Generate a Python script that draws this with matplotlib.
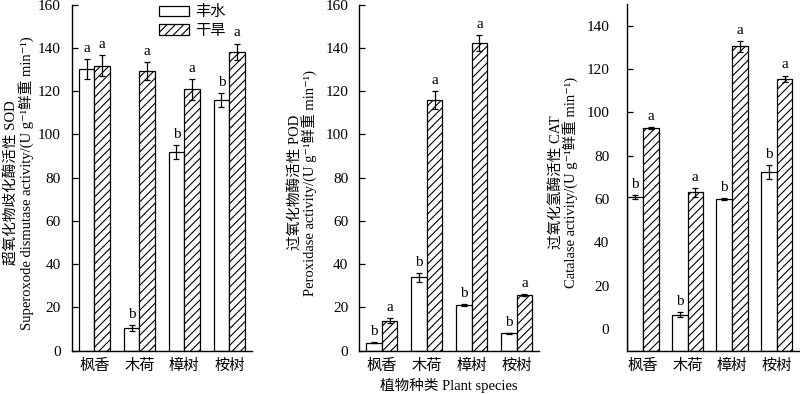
import matplotlib
matplotlib.use("Agg")
import matplotlib.pyplot as plt
import numpy as np

plt.rcParams['font.family'] = ['Liberation Serif', 'Noto Sans CJK SC', 'DejaVu Sans']
plt.rcParams['hatch.linewidth'] = 0.8
plt.rcParams['axes.linewidth'] = 1.0

species = ['枫香', '木荷', '樟树', '桉树']
series_names = ['丰水', '干旱']

sod_wet = [130, 10.6, 91.8, 116]
sod_wet_err = [4.6, 1.3, 3.4, 3.2]
sod_dry = [131.7, 129.3, 120.8, 138.2]
sod_dry_err = [4.8, 4.1, 4.8, 3.7]
sod_wet_lab = ['a', 'b', 'b', 'b']
sod_dry_lab = ['a', 'a', 'a', 'a']

pod_wet = [3.7, 33.9, 21.0, 8.0]
pod_wet_err = [0.3, 2.0, 0.5, 0.3]
pod_dry = [13.9, 115.8, 142.3, 25.6]
pod_dry_err = [1.1, 4.3, 3.6, 0.5]
pod_wet_lab = ['b', 'b', 'b', 'b']
pod_dry_lab = ['a', 'a', 'a', 'a']

cat_wet = [60.9, 6.7, 60.0, 72.3]
cat_wet_err = [1.1, 1.0, 0.3, 3.2]
cat_dry = [92.8, 63.1, 130.4, 115.4]
cat_dry_err = [0.3, 2.0, 2.5, 1.6]
cat_wet_lab = ['b', 'b', 'b', 'b']
cat_dry_lab = ['a', 'a', 'a', 'a']

W, H = 800, 394
fig = plt.figure(figsize=(8, 3.94), dpi=100)

def px_axes(left, right, top, bottom):
    return [left / W, (H - bottom) / H, (right - left) / W, (bottom - top) / H]

ax1 = fig.add_axes(px_axes(72, 251.7, 4.5, 350.7))
ax2 = fig.add_axes(px_axes(359.3, 539, 4.5, 350.7))
ax3 = fig.add_axes(px_axes(627.3, 799, 4, 350.7))

bw = 0.35
x = np.arange(len(species))

def draw(ax, wet, wet_err, dry, dry_err, wl, dl, ylim, yticks, xlim, base, ylabel, lab_px, pad):
    b1 = ax.bar(x - bw / 2, np.array(wet) - base, bw, bottom=base, color='white',
                edgecolor='black', linewidth=0.9, label=series_names[0], zorder=2)
    b2 = ax.bar(x + bw / 2, np.array(dry) - base, bw, bottom=base, color='white',
                edgecolor='black', linewidth=0.9, hatch='////', label=series_names[1], zorder=2)
    ax.errorbar(x - bw / 2, wet, yerr=wet_err, fmt='none', ecolor='black',
                elinewidth=0.9, capsize=2.5, capthick=0.9, zorder=3)
    ax.errorbar(x + bw / 2, dry, yerr=dry_err, fmt='none', ecolor='black',
                elinewidth=0.9, capsize=2.5, capthick=0.9, zorder=3)
    for i in range(len(species)):
        ax.annotate(wl[i], (x[i] - bw / 2, wet[i] + wet_err[i]), xytext=(0, 3),
                    textcoords='offset points', ha='center', va='bottom', fontsize=11)
        ax.annotate(dl[i], (x[i] + bw / 2, dry[i] + dry_err[i]), xytext=(0, 3),
                    textcoords='offset points', ha='center', va='bottom', fontsize=11)
    ax.set_ylim(*ylim)
    ax.set_xlim(*xlim)
    ax.set_yticks(yticks)
    ax.set_xticks(x)
    ax.set_xticklabels(species, fontsize=11)
    ax.tick_params(axis='x', length=0, pad=6)
    ax.tick_params(axis='y', direction='in', length=4, width=0.9, pad=pad, labelsize=11)
    ax.spines['top'].set_visible(False)
    ax.spines['right'].set_visible(False)
    ax.set_ylabel(ylabel, fontsize=10.5, linespacing=0.95)
    pos = ax.get_position()
    xl = (lab_px - pos.x0 * W) / (pos.width * W)
    ax.yaxis.set_label_coords(xl, 0.485)
    return b1, b2

b1, b2 = draw(ax1, sod_wet, sod_wet_err, sod_dry, sod_dry_err, sod_wet_lab, sod_dry_lab,
              (0, 160), np.arange(0, 161, 20), (-0.5, 3.5), 0,
              '超氧化物歧化酶活性 SOD\nSuperoxode dismutase activity/(U g⁻¹鲜重 min⁻¹)', 34, 8)
draw(ax2, pod_wet, pod_wet_err, pod_dry, pod_dry_err, pod_wet_lab, pod_dry_lab,
     (0, 160), np.arange(0, 161, 20), (-0.5, 3.5), 0,
     '过氧化物酶活性 POD\nPeroxidase activity/(U g⁻¹鲜重 min⁻¹)', 317, 8)
draw(ax3, cat_wet, cat_wet_err, cat_dry, cat_dry_err, cat_wet_lab, cat_dry_lab,
     (-10, 150), np.arange(0, 141, 20), (-bw, 3.5), -10,
     '过氧化氢酶活性 CAT\nCatalase activity/(U g⁻¹鲜重 min⁻¹)', 578, 13)

ax2.set_xlabel('植物种类 Plant species', fontsize=10.5, labelpad=3.5)

fig.legend(handles=[b1, b2], labels=series_names, loc='upper left',
           bbox_to_anchor=(156 / W, 1 - 2 / H), frameon=False, fontsize=11,
           handlelength=1.95, handleheight=0.65, labelspacing=0.35,
           handletextpad=0.4, borderpad=0.2, borderaxespad=0)

fig.savefig('out.png', dpi=100)
